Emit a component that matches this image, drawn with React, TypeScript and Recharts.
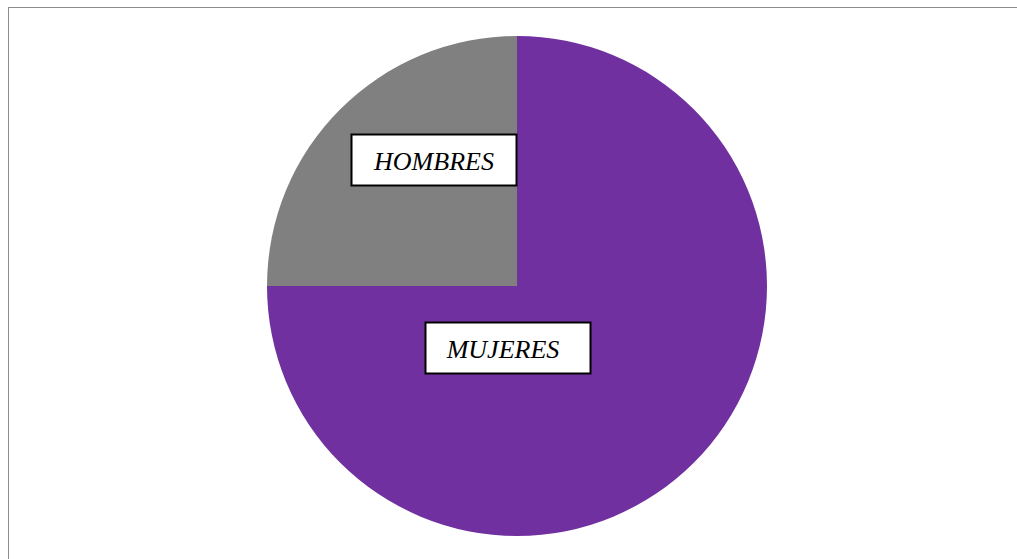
import { PieChart, Pie, Cell } from "recharts";

const names = ["MUJERES", "HOMBRES"];
const values = [75, 25];
const colors = ["#7030A0", "#808080"];

const data = names.map((name, i) => ({ name, value: values[i] }));

// label box offsets from the pie centre (Excel "best fit" placement)
const labelOffsets = [
  { dx: -9, dy: 62 },
  { dx: -83, dy: -126 },
];

function BoxLabel(props: any) {
  const { cx, cy, index, name } = props;
  const off = labelOffsets[index];
  const w = 165;
  const h = 51;
  const x = cx + off.dx - w / 2;
  const y = cy + off.dy - h / 2;
  return (
    <g>
      <rect x={x} y={y} width={w} height={h} fill="#fff" stroke="#000" strokeWidth={2} />
      <text
        x={cx + off.dx - (index === 0 ? 5 : 0)}
        y={cy + off.dy + 1}
        textAnchor="middle"
        dominantBaseline="central"
        fontFamily="'Liberation Serif', 'Times New Roman', serif"
        fontStyle="italic"
        fontSize={26}
        fill="#000"
      >
        {name}
      </text>
    </g>
  );
}

export default function App() {
  return (
    <div
      style={{
        position: "fixed",
        left: 8,
        top: 7,
        width: 1020,
        height: 560,
        border: "1px solid #8c8c8c",
        background: "#fff",
      }}
    >
      <PieChart width={1020} height={560}>
        <Pie
          data={data}
          dataKey="value"
          nameKey="name"
          cx={503}
          cy={273}
          outerRadius={250}
          startAngle={90}
          endAngle={-270}
          stroke="none"
          labelLine={false}
          label={BoxLabel}
          isAnimationActive={false}
        >
          {data.map((d, i) => (
            <Cell key={d.name} fill={colors[i]} />
          ))}
        </Pie>
      </PieChart>
    </div>
  );
}
